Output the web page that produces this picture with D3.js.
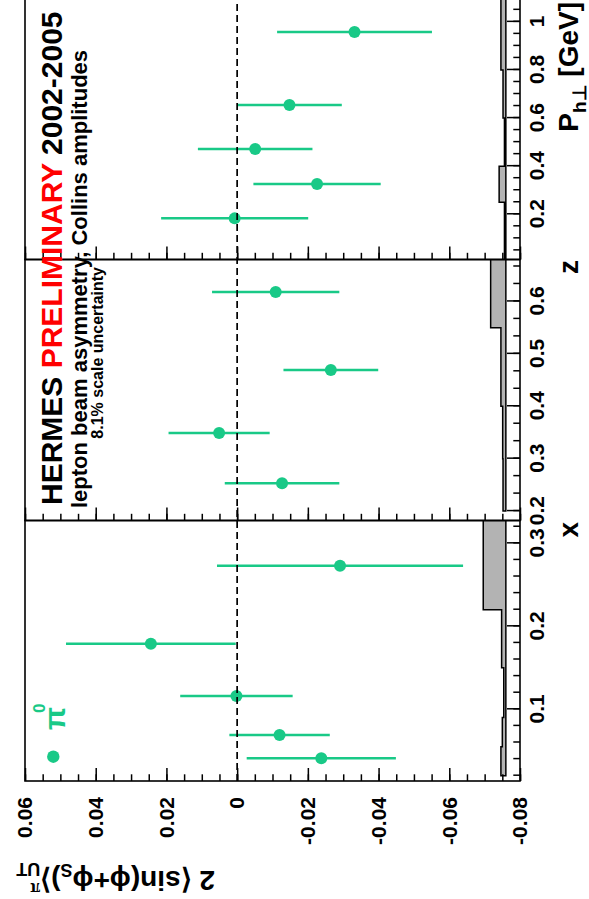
<!DOCTYPE html>
<html><head><meta charset="utf-8">
<script src="https://cdn.jsdelivr.net/npm/d3@7"></script>
<style>
body{margin:0;background:#fff}
svg{display:block}
text{font-family:"Liberation Sans",Arial,Helvetica,sans-serif;font-weight:bold}
</style>
</head><body><script>
// ---- asymmetry vs x ----
const xBinCenters = [0.041, 0.069, 0.116, 0.179, 0.273];
const xAsym = [-0.0238, -0.0120, 0.0002, 0.0244, -0.0291];
const xStat = [0.0211, 0.0142, 0.0159, 0.0240, 0.0348];
const xSysEdges = [0.02, 0.055, 0.09, 0.15, 0.22, 0.4];
const xSys = [0.0014, 0.0010, 0.0006, 0.0012, 0.0064];
// ---- asymmetry vs z ----
const zBinCenters = [0.253, 0.349, 0.469, 0.618];
const zAsym = [-0.0127, 0.0051, -0.0265, -0.0109];
const zStat = [0.0162, 0.0143, 0.0134, 0.0180];
const zSysEdges = [0.2, 0.3, 0.4, 0.55, 0.7];
const zSys = [0.0008, 0.0009, 0.0014, 0.0043];
// ---- asymmetry vs P_h-perp ----
const phBinCenters = [0.183, 0.326, 0.471, 0.654, 0.958];
const phAsym = [0.0007, -0.0226, -0.0051, -0.0148, -0.0332];
const phStat = [0.0208, 0.0180, 0.0162, 0.0148, 0.0219];
const phSysEdges = [0.0, 0.25, 0.4, 0.6, 0.8, 1.1];
const phSys = [0.0004, 0.0019, 0.0004, 0.0008, 0.0014];

// ---- axis ticks ----
const asymTicks = [0.06, 0.04, 0.02, 0, -0.02, -0.04, -0.06, -0.08];
const xTicks = [0.1, 0.2, 0.3];
const zTicks = [0.2, 0.3, 0.4, 0.5, 0.6];
const phTicks = [0.2, 0.4, 0.6, 0.8, 1];
const sysBase = -0.076;

const GREEN = "#19c987";
const W = 899, H = 589;              // canvas in landscape orientation
const frameTop = 25, frameBottom = 520;

const svg = d3.select("body").append("svg")
  .attr("width", H).attr("height", W);
svg.append("rect").attr("width", H).attr("height", W).attr("fill", "#fff");

// the whole figure is laid out landscape and turned a quarter turn
const g = svg.append("g").attr("transform", `translate(0,${W}) rotate(-90)`);

const y = d3.scaleLinear().domain([0.06, -0.08]).range([frameTop, frameBottom]);

const panels = [
  {id: "x", domain: [0.0136, 0.3275], range: [118, 378.5],
   c: xBinCenters, v: xAsym, e: xStat, edges: xSysEdges, sys: xSys,
   ticks: xTicks, minor: d3.range(0.02, 0.33, 0.02), fmt: d3.format(".1f")},
  {id: "z", domain: [0.182, 0.68], range: [378.5, 639.5],
   c: zBinCenters, v: zAsym, e: zStat, edges: zSysEdges, sys: zSys,
   ticks: zTicks, minor: d3.range(0, 16).map(k => 0.2 + k / 30).filter(t => t < 0.68), fmt: d3.format(".1f")},
  {id: "ph", domain: [0.012, 1.095], range: [639.5, 900],
   c: phBinCenters, v: phAsym, e: phStat, edges: phSysEdges, sys: phSys,
   ticks: phTicks, minor: d3.range(0.05, 1.09, 0.05), fmt: d => d === 1 ? "1" : d3.format(".1f")(d)}
];

const asymMinor = d3.range(-0.08, 0.0601, 0.005);

panels.forEach(p => {
  const sx = d3.scaleLinear().domain(p.domain).range(p.range);
  const x0 = p.range[0], x1 = p.range[1];

  g.append("clipPath").attr("id", "clip-" + p.id)
    .append("rect").attr("x", x0).attr("y", frameTop).attr("width", x1 - x0).attr("height", frameBottom - frameTop);

  // systematic band histogram
  const pts = [[sx(p.edges[0]), y(sysBase)]];
  p.sys.forEach((s, i) => {
    pts.push([sx(p.edges[i]), y(sysBase + s)]);
    pts.push([sx(p.edges[i + 1]), y(sysBase + s)]);
  });
  pts.push([sx(p.edges[p.edges.length - 1]), y(sysBase)]);
  g.append("path")
    .attr("clip-path", `url(#clip-${p.id})`)
    .attr("d", d3.line()(pts) + "Z")
    .attr("fill", "#b3b3b3").attr("stroke", "#000").attr("stroke-width", 1.5);

  // inner ticks on the asymmetry side of each panel
  const la = g.append("g").attr("transform", `translate(${x0},0)`)
    .call(d3.axisRight(y).tickValues(asymTicks).tickSize(13).tickFormat(""));
  const lm = g.append("g").attr("transform", `translate(${x0},0)`)
    .call(d3.axisRight(y).tickValues(asymMinor).tickSize(6.7).tickFormat(""));
  [la, lm].forEach(a => { a.select(".domain").remove(); a.selectAll("line").attr("stroke-width", 1.5); });

  // kinematic axis
  const ba = g.append("g").attr("transform", `translate(0,${frameBottom})`)
    .call(d3.axisBottom(sx).tickValues(p.ticks).tickSize(-13).tickPadding(9).tickFormat(p.fmt));
  const bm = g.append("g").attr("transform", `translate(0,${frameBottom})`)
    .call(d3.axisBottom(sx).tickValues(p.minor).tickSize(-6.7).tickFormat(""));
  [ba, bm].forEach(a => { a.select(".domain").remove(); a.selectAll("line").attr("stroke-width", 1.5); });
  ba.selectAll("text").attr("font-size", 21).attr("fill", "#000")
    .attr("font-family", "'Liberation Sans',Arial,sans-serif");

  // error bars and points
  const pg = g.append("g");
  p.c.forEach((c, i) => {
    pg.append("line")
      .attr("x1", sx(c)).attr("x2", sx(c))
      .attr("y1", y(p.v[i] + p.e[i])).attr("y2", y(p.v[i] - p.e[i]))
      .attr("stroke", GREEN).attr("stroke-width", 2.5);
  });
  p.c.forEach((c, i) => {
    pg.append("circle").attr("cx", sx(c)).attr("cy", y(p.v[i])).attr("r", 6).attr("fill", GREEN);
  });

  // frame
  g.append("rect").attr("x", x0).attr("y", frameTop).attr("width", x1 - x0).attr("height", frameBottom - frameTop)
    .attr("fill", "none").attr("stroke", "#000").attr("stroke-width", 1.6);
});

// zero line
g.append("line").attr("x1", 118).attr("x2", 900).attr("y1", y(0)).attr("y2", y(0))
  .attr("stroke", "#000").attr("stroke-width", 1.7).attr("stroke-dasharray", "7,4");

// asymmetry labels
const yl = g.append("g").attr("transform", "translate(118,0)")
  .call(d3.axisLeft(y).tickValues(asymTicks).tickSize(0).tickPadding(16)
    .tickFormat(d => d === 0 ? "0" : d.toFixed(2)));
yl.select(".domain").remove();
yl.selectAll("text").attr("font-size", 21).attr("fill", "#000")
  .attr("font-family", "'Liberation Sans',Arial,sans-serif");

// axis titles
g.append("text").attr("x", 377).attr("y", 578).attr("text-anchor", "end").attr("font-size", 28).text("x");
g.append("text").attr("x", 639).attr("y", 578).attr("text-anchor", "end").attr("font-size", 28).text("z");
const pt = g.append("text").attr("x", 897).attr("y", 578).attr("text-anchor", "end").attr("font-size", 28);
pt.append("tspan").text("P");
pt.append("tspan").attr("dy", 8).attr("font-size", 19).text("h\u22A5");
pt.append("tspan").attr("dy", -8).text(" [GeV]");

// asymmetry axis title
const yt = g.append("text").attr("transform", "translate(28,215) rotate(-90)").attr("font-size", 28);
yt.append("tspan").text("2 \u27E8sin(\u03D5+\u03D5");
yt.append("tspan").attr("dy", 7).attr("font-size", 18).text("S");
yt.append("tspan").attr("dy", -7).text(")\u27E9");
yt.append("tspan").attr("dy", -12).attr("font-size", 18).attr("font-family", "'Liberation Serif',serif").text("\u03C0");
yt.append("tspan").attr("dy", 20).attr("dx", -10).attr("font-size", 18).text("UT");

// header
const h1 = g.append("text").attr("x", 394).attr("y", 62).attr("font-size", 30);
h1.append("tspan").text("HERMES ");
h1.append("tspan").attr("fill", "#ff0000").text("PRELIMINARY");
h1.append("tspan").text(" 2002-2005");
g.append("text").attr("x", 391).attr("y", 87).attr("font-size", 22)
  .text("lepton beam asymmetry, Collins amplitudes");
g.append("text").attr("x", 632).attr("y", 103).attr("text-anchor", "end").attr("font-size", 16)
  .text("8.1% scale uncertainty");

// legend
g.append("circle").attr("cx", 142.3).attr("cy", 53.3).attr("r", 6.2).attr("fill", GREEN);
g.append("text").attr("x", 169).attr("y", 65).attr("fill", GREEN)
  .attr("font-family", "'Liberation Serif','DejaVu Serif',serif").attr("font-size", 30)
  .text("\u03C0");
g.append("text").attr("x", 186).attr("y", 45).attr("fill", GREEN)
  .attr("font-family", "'Liberation Serif','DejaVu Serif',serif").attr("font-size", 17)
  .text("0");
</script></body></html>
